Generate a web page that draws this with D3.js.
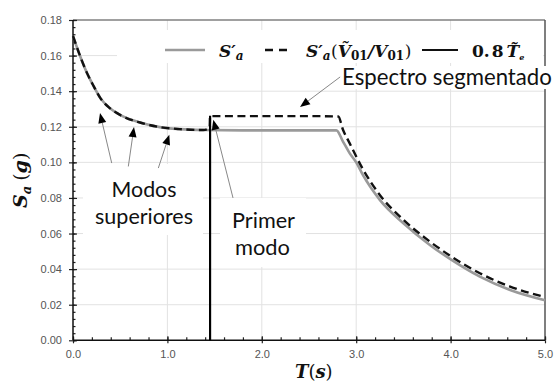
<!DOCTYPE html>
<html><head><meta charset="utf-8">
<script src="https://cdn.jsdelivr.net/npm/d3@7"></script>
<style>body{margin:0;background:#fff}svg{display:block}</style>
</head><body>
<svg id="c" width="554" height="383"></svg>
<script>
// ---- data ----
const grayT  = [0.0, 0.07, 0.15, 0.22, 0.29, 0.39, 0.53, 0.71, 0.92, 1.13, 1.38, 1.8, 2.3, 2.79, 2.86, 2.93, 3.0, 3.075, 3.25, 3.5, 3.78, 4.01, 4.31, 4.63, 5.0];
const graySa = [0.171, 0.1605, 0.150, 0.1427, 0.1361, 0.1305, 0.1258, 0.1224, 0.1198, 0.1187, 0.1182, 0.1180, 0.1180, 0.1180, 0.1117, 0.1052, 0.1000, 0.0925, 0.0789, 0.0658, 0.0536, 0.0452, 0.0358, 0.0283, 0.0225];
const dashT  = [0.0, 0.07, 0.15, 0.22, 0.29, 0.39, 0.53, 0.71, 0.92, 1.13, 1.38, 1.42, 1.448, 1.452, 2.0, 2.5, 2.81, 2.86, 2.93, 3.075, 3.25, 3.5, 3.78, 4.01, 4.31, 4.63, 5.0];
const dashSa = [0.171, 0.1605, 0.150, 0.1427, 0.1361, 0.1305, 0.1258, 0.1224, 0.1198, 0.1187, 0.1182, 0.1186, 0.1200, 0.1260, 0.1260, 0.1260, 0.1258, 0.1183, 0.1108, 0.0958, 0.0817, 0.0677, 0.0555, 0.0470, 0.0377, 0.0302, 0.0243];
const firstModeT = 1.452;
const firstModeTop = 0.1262;
const xTicks = [0, 1, 2, 3, 4, 5];
const xTickLabels = ["0.0", "1.0", "2.0", "3.0", "4.0", "5.0"];
const yTicks = [0, 0.02, 0.04, 0.06, 0.08, 0.10, 0.12, 0.14, 0.16, 0.18];
const yTickLabels = ["0.00", "0.02", "0.04", "0.06", "0.08", "0.10", "0.12", "0.14", "0.16", "0.18"];
const xMinor = d3.range(0, 5.0001, 0.2);
const yMinor = d3.range(0, 0.18001, 0.004);
const annoArrows = [
  {from: [0.41, 0.0996], to: [0.286, 0.1277]},
  {from: [0.586, 0.0977], to: [0.646, 0.1198]},
  {from: [0.904, 0.0968], to: [1.02, 0.1155]},
  {from: [1.695, 0.0800], to: [1.486, 0.1239]},
  {from: [2.83, 0.1480], to: [2.405, 0.1311]}
];

// ---- chart ----
const svg = d3.select('#c');
const x = d3.scaleLinear().domain([0, 5]).range([73, 545]);
const y = d3.scaleLinear().domain([0, 0.18]).range([340.3, 20]);
const SERIF = "'DejaVu Serif', serif";
const SANS = "'Liberation Sans', Arial, sans-serif";
const ANNO = "Lato, 'Open Sans', sans-serif";

// gridlines
svg.append('g').selectAll('line').data([1, 2, 3, 4]).join('line')
  .attr('x1', d => x(d)).attr('x2', d => x(d)).attr('y1', y(0)).attr('y2', y(0.18))
  .attr('stroke', '#e2e2e2').attr('stroke-width', 1);
svg.append('g').selectAll('line').data(yTicks.slice(1, -1)).join('line')
  .attr('x1', x(0)).attr('x2', x(5)).attr('y1', d => y(d)).attr('y2', d => y(d))
  .attr('stroke', '#e2e2e2').attr('stroke-width', 1);

// legend background
svg.append('rect').attr('x', 117).attr('y', 30).attr('width', 426).attr('height', 33).attr('fill', '#fff');

// frame top/right
svg.append('line').attr('x1', x(0)).attr('x2', x(5)).attr('y1', y(0.18)).attr('y2', y(0.18)).attr('stroke', '#808080').attr('stroke-width', 1.5);
svg.append('line').attr('x1', x(5)).attr('x2', x(5)).attr('y1', y(0.18)).attr('y2', y(0)).attr('stroke', '#555').attr('stroke-width', 1.5);

// axes
function styleAxis(g) {
  g.select('.domain').remove();
  g.selectAll('line').attr('stroke', '#222').attr('stroke-width', 1.2);
  g.selectAll('text').style('font-family', SANS).style('font-size', '11px').attr('fill', '#555');
}
const yAxisOut = svg.append('g').attr('transform', `translate(${x(0)},0)`)
  .call(d3.axisLeft(y).tickValues(yTicks).tickFormat((d, i) => yTickLabels[i]).tickSize(4).tickPadding(7));
styleAxis(yAxisOut);
const yAxisIn = svg.append('g').attr('transform', `translate(${x(0)},0)`)
  .call(d3.axisRight(y).tickValues(yTicks).tickFormat('').tickSize(4));
styleAxis(yAxisIn);
const yAxisMinor = svg.append('g').attr('transform', `translate(${x(0)},0)`)
  .call(d3.axisRight(y).tickValues(yMinor).tickFormat('').tickSize(2.5));
styleAxis(yAxisMinor);
const xAxisOut = svg.append('g').attr('transform', `translate(0,${y(0)})`)
  .call(d3.axisBottom(x).tickValues(xTicks).tickFormat((d, i) => xTickLabels[i]).tickSize(3).tickPadding(7));
styleAxis(xAxisOut);
const xAxisIn = svg.append('g').attr('transform', `translate(0,${y(0)})`)
  .call(d3.axisTop(x).tickValues(xTicks).tickFormat('').tickSize(4));
styleAxis(xAxisIn);
const xAxisMinor = svg.append('g').attr('transform', `translate(0,${y(0)})`)
  .call(d3.axisTop(x).tickValues(xMinor).tickFormat('').tickSize(3));
styleAxis(xAxisMinor);
svg.append('line').attr('x1', x(0)).attr('x2', x(0)).attr('y1', y(0.18)).attr('y2', y(0)).attr('stroke', '#111').attr('stroke-width', 1.5);
svg.append('line').attr('x1', x(0)).attr('x2', x(5)).attr('y1', y(0)).attr('y2', y(0)).attr('stroke', '#111').attr('stroke-width', 1.5);

// curves
const grayData = grayT.map((t, i) => [t, graySa[i]]);
const dashData = dashT.map((t, i) => [t, dashSa[i]]);
const line = d3.line().x(d => x(d[0])).y(d => y(d[1])).curve(d3.curveMonotoneX);
svg.append('path').attr('d', line(grayData)).attr('fill', 'none').attr('stroke', '#9a9a9a').attr('stroke-width', 2.6);
svg.append('path').attr('d', line(dashData)).attr('fill', 'none').attr('stroke', '#111').attr('stroke-width', 2.4).attr('stroke-dasharray', '8,4.5');
svg.append('line').attr('x1', x(firstModeT)).attr('x2', x(firstModeT)).attr('y1', y(0)).attr('y2', y(firstModeTop))
  .attr('stroke', '#000').attr('stroke-width', 2.2);

// annotation boxes
[[83, 164, 120, 71], [220, 198, 86, 69], [338, 66, 216, 23]].forEach(b =>
  svg.append('rect').attr('x', b[0]).attr('y', b[1]).attr('width', b[2]).attr('height', b[3]).attr('fill', '#fff'));

// annotation texts
function annoText(str, xx, yy, anchor, target) {
  const t = svg.append('text').attr('x', xx).attr('y', yy).attr('text-anchor', anchor)
    .style('font-family', ANNO).style('font-size', '19px').attr('fill', '#111').text(str);
  const w = t.node().getComputedTextLength();
  t.style('font-size', (19 * target / w).toFixed(2) + 'px');
  return t;
}
annoText('Espectro segmentado', 342, 85, 'start', 210);
annoText('Modos', 144, 197, 'middle', 65);
annoText('superiores', 144, 224, 'middle', 98);
annoText('Primer', 263.5, 228, 'middle', 63);
annoText('modo', 262.5, 255, 'middle', 55);

// arrows
annoArrows.forEach(a => {
  const x1 = x(a.from[0]), y1 = y(a.from[1]), x2 = x(a.to[0]), y2 = y(a.to[1]);
  const ang = Math.atan2(y2 - y1, x2 - x1);
  const L = 10, Wd = 4;
  const bx = x2 - L * Math.cos(ang), by = y2 - L * Math.sin(ang);
  svg.append('line').attr('x1', x1).attr('y1', y1).attr('x2', bx).attr('y2', by).attr('stroke', '#888').attr('stroke-width', 1);
  const p = [[x2, y2], [bx + Wd * Math.sin(ang), by - Wd * Math.cos(ang)], [bx - Wd * Math.sin(ang), by + Wd * Math.cos(ang)]];
  svg.append('path').attr('d', 'M' + p.map(q => q.join(',')).join('L') + 'Z').attr('fill', '#000');
});

// math-like text runs: one <text> per run, pieces as tspans
function mathRun(x0, base, pieces, transform) {
  const t = svg.append('text').attr('x', x0).attr('y', base).attr('fill', '#111')
    .style('font-family', SERIF);
  if (transform) t.attr('transform', transform);
  let cur = 0;
  pieces.forEach(p => {
    const dyAbs = p.dy || 0;
    t.append('tspan').attr('dx', p.dx || 0).attr('dy', dyAbs - cur)
      .style('font-size', (p.size || 17) + 'px').style('font-weight', p.weight || 'bold')
      .style('font-style', p.style || 'italic').text(p.t);
    cur = dyAbs;
  });
  return t;
}

// legend
svg.append('line').attr('x1', 165).attr('x2', 205).attr('y1', 50).attr('y2', 50).attr('stroke', '#9a9a9a').attr('stroke-width', 2.6);
svg.append('line').attr('x1', 265).attr('x2', 287).attr('y1', 50).attr('y2', 50).attr('stroke', '#111').attr('stroke-width', 2.4).attr('stroke-dasharray', '8,6');
svg.append('line').attr('x1', 422).attr('x2', 458).attr('y1', 50).attr('y2', 50).attr('stroke', '#111').attr('stroke-width', 2.2);
mathRun(219, 57, [
  {t: 'S′'}, {t: 'a', size: 12, dy: 3}
]);
mathRun(306, 57, [
  {t: 'S′'}, {t: 'a', size: 12, dy: 3},
  {t: '(', style: 'normal', weight: 'normal', dx: 0.5},
  {t: 'V\u0303'},
  {t: '01', size: 12, dy: 3, style: 'normal'},
  {t: '/', dx: 0.5},
  {t: 'V'}, {t: '01', size: 12, dy: 3, style: 'normal'},
  {t: ')', style: 'normal', weight: 'normal', dx: 0.5}
]);
mathRun(472, 57, [
  {t: '0.', style: 'normal'}, {t: '8', style: 'normal', dx: 2},
  {t: 'T\u0303', dx: 3},
  {t: 'e', size: 8, dy: 3}
]);

// axis titles
mathRun(0, 0, [
  {t: 'S', size: 19}, {t: 'a', size: 13, dy: 4}, {t: '(', size: 19, style: 'normal', weight: 'normal', dx: 5},
  {t: 'g', size: 19}, {t: ')', size: 19, style: 'normal', weight: 'normal'}
], 'translate(27,208) rotate(-90)');
mathRun(295, 378, [
  {t: 'T', size: 18}, {t: '(', size: 18, style: 'normal', weight: 'normal'}, {t: 's', size: 18}, {t: ')', size: 18, style: 'normal', weight: 'normal'}
]);
</script>
</body></html>
